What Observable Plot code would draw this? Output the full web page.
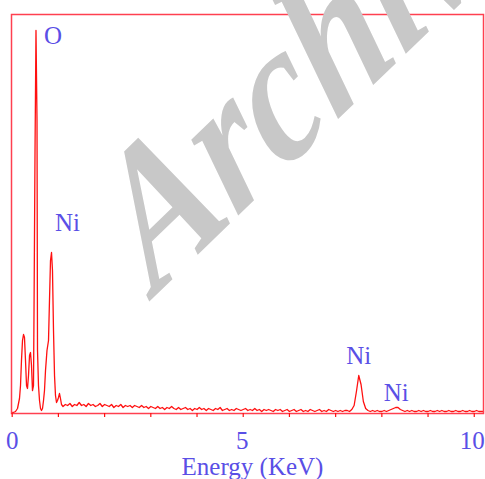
<!DOCTYPE html>
<html>
<head>
<meta charset="utf-8">
<script src="https://cdn.jsdelivr.net/npm/d3@7"></script>
<script src="https://cdn.jsdelivr.net/npm/@observablehq/plot@0.6"></script>
<style>
  html, body { margin: 0; padding: 0; background: #fff; }
</style>
</head>
<body>
<div id="chart"></div>
<script>
// Low-energy region of the EDX spectrum (keV, counts)
const lowEnergy = [0.01, 0.028, 0.072, 0.115, 0.158, 0.18, 0.201, 0.223, 0.245, 0.266, 0.288, 0.31, 0.331, 0.353, 0.375, 0.396, 0.418, 0.439, 0.461, 0.472, 0.494, 0.515, 0.537, 0.548, 0.569, 0.591, 0.613, 0.634, 0.656, 0.678, 0.699, 0.721, 0.753, 0.786, 0.807, 0.829, 0.851, 0.872, 0.894, 0.916, 0.937, 0.959, 0.981, 1.002, 1.024, 1.045, 1.067];
const lowCounts = [1, 1, 2, 5, 15, 28, 53, 73, 79, 76, 53, 28, 25, 38, 58, 61, 48, 23, 28, 100, 263, 383, 293, 63, 28, 13, 5, 3, 5, 13, 23, 43, 63, 73, 113, 153, 161, 143, 83, 38, 18, 11, 13, 16, 20, 15, 9];

// Remaining channels, 0.05 keV apart, starting at 1.10 keV
const bgStart = 1.10;
const bgStep = 0.05;
const bgCounts = [
  7, 9, 8, 10, 7, 9, 8, 11, 8, 9,
  7, 10, 8, 9, 7, 8, 10, 7, 9, 8,
  7, 9, 6, 8, 7, 9, 6, 8, 7, 8,
  6, 8, 7, 6, 8, 6, 7, 5, 7, 6,
  5, 7, 5, 6, 4, 6, 5, 7, 5, 4,
  6, 4, 5, 6, 4, 5, 3, 5, 4, 6,
  4, 5, 3, 5, 4, 3, 5, 4, 6, 3,
  4, 5, 3, 4, 3, 5, 4, 3, 4, 5,
  3, 4, 3, 5, 3, 4, 2, 4, 3, 4,
  3, 2, 4, 3, 4, 2, 3, 4, 2, 3,
  4, 2, 3, 4, 2, 3, 2, 4, 3, 2,
  3, 4, 2, 3, 2, 4, 3, 2, 3, 2,
  3, 2, 3, 3, 2, 4, 8, 22, 38, 29,
  12, 5, 3, 2, 3, 2, 3, 2, 2, 3,
  2, 3, 4, 5, 6, 6, 4, 3, 2, 3,
  2, 3, 2, 2, 3, 2, 3, 2, 2, 3,
  2, 2, 3, 2, 3, 2, 2, 3, 2, 2,
  3, 2, 2, 3, 2, 2, 3, 2, 2, 3,
  2, 2, 2
];

// Peak labels: element, peak energy (keV), peak counts
const peakLabels = ["O", "Ni", "Ni", "Ni"];
const peakEnergy = [0.515, 0.851, 7.50, 8.31];
const peakCounts = [383, 161, 38, 6];

const xTicks = [0, 1, 2, 3, 4, 5, 6, 7, 8, 9, 10];
const xTickLabels = [0, 5, 10];
const xLabel = "Energy (KeV)";
const watermark = "Archive";

const spectrum = [
  ...lowEnergy.map((e, i) => ({e, c: lowCounts[i]})),
  ...bgCounts.map((c, i) => ({e: +(bgStart + i * bgStep).toFixed(3), c}))
];
const peaks = peakLabels.map((t, i) => ({t, e: peakEnergy[i], c: peakCounts[i]}));

const blue = "#5a4fe6";
const red = "#ff1010";
const font = "'Liberation Serif', 'Times New Roman', serif";
const offsets = [[17, 5], [16, -30], [0, -20], [0, -15]];
const tickDx = [0, -1, -2];

const chart = Plot.plot({
  width: 485,
  height: 479,
  marginTop: 14,
  marginBottom: 66,
  marginLeft: 11,
  marginRight: 2,
  style: {background: "#fff", fontFamily: font, overflow: "hidden"},
  x: {domain: [-0.015, 10.2]},
  y: {domain: [0, 399], axis: null},
  marks: [
    Plot.line(spectrum, {x: "e", y: "c", stroke: red, strokeWidth: 1.3}),
    Plot.frame({stroke: "#ff4050", strokeWidth: 1.5}),
    Plot.axisX(xTicks, {anchor: "bottom", tickSize: 4, stroke: red, strokeWidth: 1.2, tickFormat: () => "", label: null}),
    ...xTickLabels.map((v, i) => Plot.text([v], {x: d => d, frameAnchor: "bottom", dx: tickDx[i], dy: 27, lineAnchor: "middle", text: d => String(d), fill: blue, fontSize: 25, fontFamily: font})),
    Plot.text([xLabel], {frameAnchor: "bottom", dx: 5, dy: 53, lineAnchor: "middle", text: d => d, fill: blue, fontSize: 25, fontFamily: font}),
    ...peaks.map((p, i) => Plot.text([p], {x: "e", y: "c", text: "t", dx: offsets[i][0], dy: offsets[i][1], lineAnchor: "middle", fill: blue, fontSize: 25, fontFamily: font})),
    Plot.text([watermark], {x: () => 3.1, y: () => 118, text: d => d, textAnchor: "start", lineAnchor: "bottom", rotate: -44, fill: "#c8c8c8", fontSize: 190, fontWeight: "bold", fontStyle: "italic", fontFamily: font, className: "wm"})
  ]
});
chart.querySelectorAll(".wm text").forEach(t => {
  t.setAttribute("transform", (t.getAttribute("transform") || "") + " skewX(-10) scale(0.88,1)");
});
document.getElementById("chart").appendChild(chart);
</script>
</body>
</html>
